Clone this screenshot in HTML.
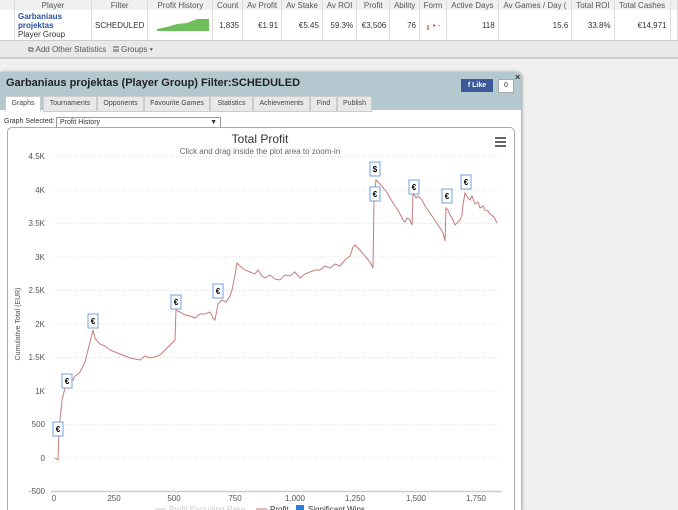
<!DOCTYPE html><html><head><style>
html,body{margin:0;width:678px;height:510px;overflow:hidden}
body{background:#f0f0f0;font-family:"Liberation Sans",sans-serif;font-size:8px;color:#333;position:relative}
.a{position:absolute}
table{border-collapse:collapse;position:absolute;left:0;top:0;width:678px;background:#fff}
td{border-right:1px solid #ddd;padding:0 3px;font-size:8px;text-align:right;white-space:nowrap}
tr.h td{background:#f0f0f0;height:10px;text-align:center;color:#555}
tr.r td{height:30px;border-bottom:1px solid #ccc}
.tab{position:absolute;top:96px;height:14px;background:#e8e8e8;border:1px solid #ccc;font-size:7px;line-height:14px;text-align:center;color:#444}
</style></head><body>
<table><tr class="h"><td style="width:8px"></td><td style="width:70px">Player</td><td style="width:46px">Filter</td><td style="width:58px">Profit History</td><td>Count</td><td>Av Profit</td><td>Av Stake</td><td>Av ROI</td><td>Profit</td><td>Ability</td><td>Form</td><td>Active Days</td><td>Av Games / Day (</td><td>Total ROI</td><td>Total Cashes</td><td></td></tr>
<tr class="r"><td></td><td style="text-align:left;line-height:9px"><b style="color:#2a4f9a">Garbaniaus<br>projektas</b><br>Player Group</td><td style="text-align:center">SCHEDULED</td><td><svg width="52" height="14"><polygon points="0,14 0,12 10,10 20,7 30,6 35,4 40,2 52,2 52,14" fill="#6cbf5a"/></svg></td><td>1,835</td><td>€1.91</td><td>€5.45</td><td>59.3%</td><td>€3,506</td><td>76</td><td style="text-align:center;color:#c44">╻ ▪ ‐</td><td>118</td><td>15.6</td><td>33.8%</td><td>€14,971</td><td></td></tr></table>
<div class="a" style="left:0;top:41px;width:678px;height:18px;background:#e9e9e9;border-bottom:2px solid #ccc;font-size:8px;line-height:18px;color:#555;padding-left:28px;box-sizing:border-box">⧉ Add Other Statistics &nbsp; ▤ Groups ▾</div>
<div class="a" style="left:0;top:72px;width:521px;height:440px;background:#fff;border-radius:0 6px 0 0;box-shadow:1px 0 3px #999"></div>
<div class="a" style="left:0;top:72px;width:521px;height:38px;background:#b4c9cf;border-radius:0 6px 0 0"></div>
<div class="a" style="left:6px;top:77px;font-size:11px;font-weight:bold;color:#222">Garbaniaus projektas (Player Group) Filter:SCHEDULED</div>
<div class="a" style="left:461px;top:79px;width:32px;height:13px;background:#3b5998;color:#fff;font-size:7px;font-weight:bold;line-height:13px;text-align:center">f Like</div>
<div class="a" style="left:498px;top:79px;width:14px;height:12px;background:#fff;border:1px solid #aaa;font-size:7px;text-align:center;line-height:12px">0</div>
<div class="a" style="left:515px;top:72px;font-size:9px;font-weight:bold">×</div>
<div class="tab" style="left:5px;width:34px;background:#fff;border-bottom-color:#fff">Graphs</div>
<div class="tab" style="left:43px;width:52px">Tournaments</div>
<div class="tab" style="left:97px;width:45px">Opponents</div>
<div class="tab" style="left:144px;width:64px">Favourite Games</div>
<div class="tab" style="left:210px;width:41px">Statistics</div>
<div class="tab" style="left:253px;width:55px">Achievements</div>
<div class="tab" style="left:310px;width:25px">Find</div>
<div class="tab" style="left:337px;width:33px">Publish</div>
<div class="a" style="left:4px;top:118px;font-size:7px">Graph Selected:</div>
<div class="a" style="left:56px;top:117px;width:160px;height:9px;border:1px solid #999;font-size:7px;line-height:9px;padding-left:3px">Profit History<span style="float:right;padding-right:3px">▼</span></div>
<div class="a" style="left:7px;top:127px;width:506px;height:400px;border:1px solid #aaa;border-radius:5px"></div>
<svg class="a" style="left:0;top:0" width="678" height="510">
<text x="260" y="143" font-size="12" text-anchor="middle" fill="#333" font-family="Liberation Sans">Total Profit</text>
<text x="260" y="154" font-size="8" text-anchor="middle" fill="#666" font-family="Liberation Sans">Click and drag inside the plot area to zoom-in</text>
<g fill="#666"><rect x="495" y="137" width="11" height="2"/><rect x="495" y="141" width="11" height="2"/><rect x="495" y="145" width="11" height="2"/></g>
<g stroke="#ddd" stroke-dasharray="1,2"><line x1="53" x2="500" y1="156.5" y2="156.5"/><line x1="53" x2="500" y1="190" y2="190"/><line x1="53" x2="500" y1="223.5" y2="223.5"/><line x1="53" x2="500" y1="257" y2="257"/><line x1="53" x2="500" y1="290.5" y2="290.5"/><line x1="53" x2="500" y1="324" y2="324"/><line x1="53" x2="500" y1="357.5" y2="357.5"/><line x1="53" x2="500" y1="391" y2="391"/><line x1="53" x2="500" y1="424.5" y2="424.5"/><line x1="53" x2="500" y1="458" y2="458"/></g>
<line x1="51" x2="502" y1="491.5" y2="491.5" stroke="#ccd" stroke-width="1.5"/>
<g font-size="8" fill="#555" text-anchor="end" font-family="Liberation Sans"><text x="45" y="159">4.5K</text><text x="45" y="193">4K</text><text x="45" y="226">3.5K</text><text x="45" y="260">3K</text><text x="45" y="293">2.5K</text><text x="45" y="327">2K</text><text x="45" y="360">1.5K</text><text x="45" y="394">1K</text><text x="45" y="427">500</text><text x="45" y="461">0</text><text x="45" y="494">-500</text></g>
<g font-size="8" fill="#555" text-anchor="middle" font-family="Liberation Sans"><text x="54" y="501">0</text><text x="114" y="501">250</text><text x="174" y="501">500</text><text x="235" y="501">750</text><text x="295" y="501">1,000</text><text x="355" y="501">1,250</text><text x="416" y="501">1,500</text><text x="476" y="501">1,750</text></g>
<text x="20" y="324" font-size="7" fill="#555" transform="rotate(-90 20 324)" text-anchor="middle" font-family="Liberation Sans">Cumulative Total (EUR)</text>
<polyline fill="none" stroke="#c97a7a" stroke-width="1" points="55,458 58,460 59,430 62,400 64,392 66,385 68,388 70,382 73,380 75,376 78,374 80,372 83,366 85,362 88,350 93,330 95,338 98,342 100,344 105,346 110,350 115,352 120,354 125,356 130,358 135,359 140,360 145,356 150,358 155,357 160,355 165,350 170,345 175,340 176,310 180,312 185,315 190,316 195,318 200,314 205,314 210,312 213,318 215,320 218,304 222,300 226,302 230,296 232,290 235,275 237,263 240,266 245,270 250,272 255,274 258,270 262,276 265,278 270,275 275,279 280,280 285,275 290,276 295,272 300,278 305,274 310,272 315,270 320,270 325,266 330,268 335,264 340,266 345,260 350,256 353,247 355,245 360,250 365,256 370,262 373,268 374,198 376,180 380,184 385,190 388,194 390,198 395,206 398,210 400,214 403,220 405,222 407,218 410,220 412,225 413,193 416,198 418,196 422,200 425,206 430,213 432,216 436,222 440,228 443,233 445,241 446,208 448,210 450,215 453,220 455,225 458,222 460,220 462,215 463,205 465,193 468,198 470,200 472,196 475,204 478,202 480,208 483,206 485,210 488,211 490,214 494,217 497,223"/>
<g font-size="8" font-weight="bold" text-anchor="middle" font-family="Liberation Sans" fill="#000">
<g stroke="#6fa0e0" fill="#fff"><rect x="53" y="422" width="10" height="14"/><rect x="62" y="374" width="10" height="14"/><rect x="88" y="314" width="10" height="14"/><rect x="171" y="295" width="10" height="14"/><rect x="213" y="284" width="10" height="14"/><rect x="370" y="162" width="10" height="14"/><rect x="370" y="187" width="10" height="14"/><rect x="409" y="180" width="10" height="14"/><rect x="442" y="189" width="10" height="14"/><rect x="461" y="175" width="10" height="14"/></g>
<text x="58" y="432">€</text><text x="67" y="384">€</text><text x="93" y="324">€</text><text x="176" y="305">€</text><text x="218" y="294">€</text><text x="375" y="172">$</text><text x="375" y="197">€</text><text x="414" y="190">€</text><text x="447" y="199">€</text><text x="466" y="185">€</text></g>
<g font-size="8" font-family="Liberation Sans"><line x1="155" x2="166" y1="509" y2="509" stroke="#ccc"/><text x="169" y="512" fill="#ccc">Profit Excluding Rake</text><line x1="256" x2="267" y1="509" y2="509" stroke="#c97a7a"/><text x="270" y="512" fill="#333">Profit</text><rect x="296" y="505" width="8" height="8" fill="#2f7ed8"/><text x="308" y="512" fill="#333">Significant Wins</text></g>
</svg>
</body></html>
